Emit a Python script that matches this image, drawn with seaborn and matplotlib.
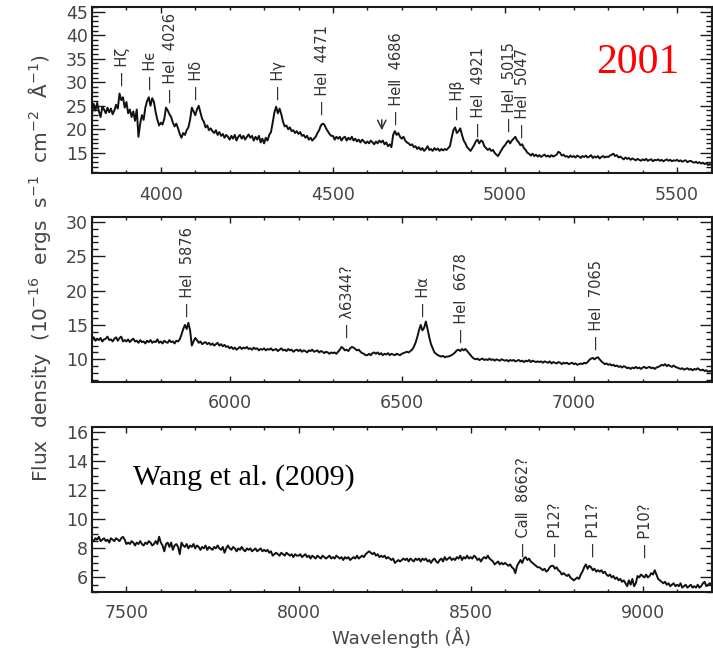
import numpy as np
import pandas as pd
import matplotlib
matplotlib.use("Agg")
import matplotlib.pyplot as plt
from matplotlib.ticker import MultipleLocator
import seaborn as sns

# ---------------------------------------------------------------------------
# Optical spectrum (flux density in 1e-16 erg s^-1 cm^-2 A^-1), 5 A sampling
# ---------------------------------------------------------------------------
STEP = 5

blue_range = (3800, 5600)
flux_blue = [
    23.2, 25.4, 24.0, 25.6, 23.8, 22.6, 24.8, 24.2, 23.4, 24.6, 23.6, 24.4, 23.2, 24.0, 25.2, 24.4, 27.6, 26.2, 26.8, 24.6,  # 3800
    25.8, 23.4, 24.2, 22.6, 23.8, 21.8, 24.2, 18.4, 21.2, 23.0, 22.0, 24.6, 26.0, 26.8, 25.0, 26.6, 25.8, 23.6, 22.0, 20.8,  # 3900
    21.4, 21.0, 22.2, 24.6, 24.0, 23.2, 22.6, 21.4, 20.6, 21.2, 20.2, 19.0, 18.2, 19.2, 18.8, 19.8, 20.4, 22.0, 24.6, 23.8,  # 4000
    23.0, 24.2, 25.0, 23.6, 22.2, 21.6, 20.4, 20.8, 19.8, 20.2, 19.6, 19.2, 19.8, 18.8, 19.4, 18.6, 19.0, 18.2, 18.8, 18.4,  # 4100
    17.8, 18.6, 18.0, 18.8, 17.6, 18.4, 18.8, 18.0, 18.6, 17.8, 18.4, 18.9, 18.2, 18.6, 17.6, 18.4, 17.8, 18.6, 17.2, 18.0,  # 4200
    17.0, 18.2, 17.6, 18.8, 19.4, 21.4, 23.6, 24.8, 23.4, 24.4, 23.2, 21.6, 20.6, 20.8, 20.0, 20.4, 19.6, 19.8, 19.2, 19.6,  # 4300
    19.0, 19.4, 18.6, 18.8, 18.2, 18.6, 17.8, 18.2, 17.6, 18.0, 18.4, 19.2, 19.8, 20.8, 21.2, 21.0, 20.2, 19.6, 19.0, 18.6,  # 4400
    18.6, 17.8, 18.4, 18.0, 18.4, 17.6, 18.2, 18.4, 17.6, 18.2, 17.8, 18.4, 17.6, 18.0, 17.4, 17.8, 17.2, 17.8, 17.4, 17.0,  # 4500
    17.4, 17.0, 17.6, 17.2, 16.8, 17.4, 17.0, 17.6, 17.2, 17.6, 16.8, 17.2, 16.4, 16.8, 16.2, 18.8, 19.6, 18.8, 19.2, 18.4,  # 4600
    18.0, 18.4, 17.6, 17.2, 17.0, 16.6, 16.8, 16.2, 16.4, 15.8, 16.2, 15.6, 16.0, 15.4, 15.8, 16.4, 15.6, 15.8, 15.4, 16.0,  # 4700
    15.6, 15.9, 15.4, 15.8, 15.5, 15.8, 15.6, 16.0, 16.4, 18.2, 19.8, 20.4, 19.2, 19.6, 20.2, 18.8, 17.6, 17.0, 16.2, 15.8,  # 4800
    15.4, 16.0, 16.6, 17.4, 17.8, 17.0, 17.6, 17.4, 16.4, 16.0, 15.6, 15.9, 15.4, 15.6, 15.0, 14.6, 14.3, 15.0, 15.6, 16.2,  # 4900
    16.6, 17.2, 17.6, 17.0, 17.6, 18.0, 18.4, 17.6, 17.2, 16.6, 16.8, 16.0, 15.6, 15.0, 14.8, 14.4, 14.8, 14.3, 14.6, 14.2,  # 5000
    14.5, 14.1, 14.4, 14.6, 14.2, 14.4, 14.1, 14.5, 14.2, 14.4, 14.6, 15.2, 15.0, 14.4, 14.6, 14.2, 14.3, 14.0, 14.4, 14.1,  # 5100
    14.3, 14.0, 14.4, 14.2, 13.9, 14.3, 14.1, 14.4, 14.0, 14.2, 14.5, 13.9, 14.2, 14.0, 14.3, 13.8, 14.1, 14.3, 14.0, 14.2,  # 5200
    14.1, 14.4, 14.6, 14.8, 14.3, 14.5, 14.0, 14.2, 13.9, 13.6, 14.0, 13.7, 13.9, 13.5, 13.8, 13.6, 13.4, 13.7, 13.5, 13.3,  # 5300
    13.6, 13.4, 13.7, 13.3, 13.5, 13.6, 13.2, 13.5, 13.4, 13.6, 13.3, 13.5, 13.2, 13.4, 13.6, 13.3, 13.5, 13.2, 13.4, 13.3,  # 5400
    13.5, 13.2, 13.4, 13.1, 13.3, 13.4, 13.0, 13.2, 13.3, 13.0, 12.9, 13.1, 12.8, 13.0, 12.7, 12.9, 12.6, 12.8, 12.4, 12.6,  # 5500
    12.4,
]

red_range = (5600, 7400)
flux_red = [
    12.9, 13.2, 12.7, 13.0, 12.8, 13.1, 12.6, 12.9, 13.0, 13.3, 12.8, 12.9, 12.6, 13.0, 13.2, 12.7, 13.1, 13.3, 12.6, 12.8,  # 5600
    12.6, 12.9, 12.5, 12.8, 13.0, 12.6, 12.7, 12.4, 12.8, 12.5, 12.6, 12.3, 12.7, 12.5, 12.8, 12.4, 12.6, 12.5, 12.9, 12.4,  # 5700
    12.6, 12.3, 12.7, 12.5, 12.4, 12.8, 12.5, 12.6, 12.3, 12.7, 12.6, 12.9, 13.6, 14.4, 15.0, 14.4, 15.3, 14.2, 12.0, 12.6,  # 5800
    13.1, 12.8, 12.4, 12.6, 12.2, 12.4, 12.5, 12.2, 12.4, 12.1, 12.3, 12.0, 12.2, 12.4, 12.0, 12.2, 11.9, 12.1, 11.8, 11.9,  # 5900
    11.6, 11.8, 11.5, 11.7, 11.4, 11.6, 11.8, 11.5, 11.7, 11.6, 11.8, 11.5, 11.6, 11.4, 11.7, 11.5, 11.6, 11.3, 11.5, 11.4,  # 6000
    11.6, 11.3, 11.5, 11.4, 11.6, 11.3, 11.4, 11.5, 11.2, 11.4, 11.6, 11.3, 11.4, 11.2, 11.5, 11.3, 11.4, 11.1, 11.3, 11.4,  # 6100
    11.2, 11.4, 11.1, 11.3, 11.2, 11.0, 11.3, 11.2, 11.4, 11.1, 11.2, 11.3, 11.0, 11.2, 11.1, 10.9, 11.1, 11.0, 10.8, 11.0,  # 6200
    10.9, 11.0, 10.8, 11.1, 11.4, 11.8, 11.6, 11.3, 11.4, 11.2, 11.6, 11.8, 11.7, 11.5, 11.3, 11.4, 11.1, 10.9, 10.8, 10.6,  # 6300
    10.6, 10.8, 10.6, 10.9, 11.0, 10.8, 11.0, 10.7, 10.9, 10.6, 10.8, 10.7, 10.9, 10.6, 10.8, 10.7, 10.6, 10.8, 10.7, 10.6,  # 6400
    10.8, 10.9, 11.0, 11.1, 11.0, 11.2, 11.4, 11.8, 12.4, 13.2, 14.2, 15.0, 14.2, 14.6, 15.5, 14.4, 13.2, 12.2, 11.6, 11.0,  # 6500
    10.8, 10.6, 10.5, 10.4, 10.5, 10.3, 10.4, 10.4, 10.5, 10.6, 10.8, 11.0, 11.3, 11.4, 11.2, 11.5, 11.3, 11.5, 11.2, 10.9,  # 6600
    10.6, 10.3, 10.1, 10.0, 10.1, 9.9, 10.0, 10.1, 9.9, 10.0, 9.9, 10.1, 9.9, 10.0, 9.8, 10.0, 9.9, 9.8, 10.0, 9.9,  # 6700
    9.8, 9.9, 9.7, 9.9, 9.8, 9.9, 9.7, 9.8, 9.9, 9.7, 9.8, 9.6, 9.8, 9.7, 9.9, 9.6, 9.8, 9.7, 9.6, 9.7,  # 6800
    9.6, 9.7, 9.5, 9.7, 9.6, 9.5, 9.7, 9.4, 9.6, 9.5, 9.4, 9.6, 9.5, 9.3, 9.5, 9.4, 9.5, 9.3, 9.4, 9.5,  # 6900
    9.3, 9.4, 9.2, 9.3, 9.4, 9.3, 9.5, 9.4, 9.6, 9.9, 10.1, 10.2, 10.0, 10.2, 10.3, 10.0, 9.7, 9.5, 9.3, 9.4,  # 7000
    9.2, 9.3, 9.1, 9.2, 9.0, 9.1, 8.9, 9.0, 8.8, 9.0, 8.9, 8.7, 8.8, 8.6, 8.8, 8.7, 8.9, 8.7, 8.8, 8.6,  # 7100
    8.8, 8.9, 8.7, 8.8, 8.9, 8.7, 8.8, 8.6, 8.8, 8.9, 9.0, 9.2, 9.1, 9.3, 9.0, 9.2, 9.0, 8.9, 9.1, 8.9,  # 7200
    8.8, 8.7, 8.6, 8.7, 8.5, 8.6, 8.7, 8.5, 8.6, 8.4, 8.6, 8.5, 8.7, 8.5, 8.4, 8.5, 8.3, 8.4, 8.2, 8.3,  # 7300
    8.2,
]

nir_range = (7400, 9200)
flux_nir = [
    8.6, 8.5, 8.7, 8.6, 8.8, 8.5, 8.6, 8.7, 8.5, 8.6, 8.4, 8.7, 8.6, 8.5, 8.7, 8.6, 8.5, 8.7, 8.8, 8.6,  # 7400
    8.3, 8.4, 8.3, 8.5, 8.4, 8.2, 8.4, 8.3, 8.5, 8.3, 8.2, 8.4, 8.3, 8.5, 8.4, 8.2, 8.3, 8.5, 8.3, 8.8,  # 7500
    8.4, 8.2, 7.8, 8.3, 8.4, 8.1, 8.4, 7.9, 8.2, 8.3, 8.1, 7.6, 8.4, 8.2, 8.1, 8.3, 8.0, 8.2, 8.1, 8.3,  # 7600
    8.0, 8.2, 8.1, 7.9, 8.1, 8.0, 8.2, 7.9, 8.1, 8.0, 7.9, 8.1, 8.0, 8.2, 8.0, 7.9, 8.1, 7.7, 8.0, 8.2,  # 7700
    8.0, 7.9, 8.1, 8.0, 7.8, 8.0, 7.9, 8.1, 7.9, 7.8, 8.0, 7.9, 8.0, 7.8, 7.9, 8.0, 7.8, 7.9, 8.0, 7.8,  # 7800
    7.9, 7.8, 7.9, 7.7, 7.8, 7.5, 7.6, 7.7, 7.6, 7.5, 7.7, 7.6, 7.5, 7.7, 7.6, 7.5, 7.6, 7.4, 7.6, 7.5,  # 7900
    7.5, 7.6, 7.4, 7.5, 7.6, 7.4, 7.5, 7.3, 7.5, 7.4, 7.3, 7.5, 7.4, 7.3, 7.5, 7.4, 7.3, 7.4, 7.5, 7.3,  # 8000
    7.4, 7.3, 7.5, 7.4, 7.3, 7.4, 7.2, 7.4, 7.3, 7.4, 7.2, 7.3, 7.4, 7.3, 7.5, 7.3, 7.4, 7.5, 7.4, 7.6,  # 8100
    7.7, 7.8, 7.7, 7.6, 7.7, 7.5, 7.6, 7.4, 7.5, 7.4, 7.5, 7.3, 7.4, 7.3, 7.2, 7.3, 7.0, 7.1, 7.2, 7.1,  # 8200
    7.2, 7.3, 7.2, 7.3, 7.1, 7.3, 7.2, 7.1, 7.3, 7.2, 7.3, 7.1, 7.3, 7.2, 7.3, 7.1, 7.2, 7.0, 7.2, 7.3,  # 8300
    7.1, 7.0, 7.2, 7.3, 7.1, 7.4, 7.2, 7.3, 7.4, 7.2, 7.3, 7.2, 7.4, 7.3, 7.5, 7.2, 7.4, 7.3, 7.5, 7.3,  # 8400
    7.4, 7.3, 7.5, 7.4, 7.2, 7.3, 7.1, 7.3, 7.4, 7.3, 7.5, 7.3, 7.2, 7.1, 6.9, 7.0, 7.1, 6.9, 7.0, 6.9,  # 8500
    7.0, 6.9, 6.8, 6.9, 6.7, 6.6, 6.3, 6.8, 7.0, 7.2, 7.0, 7.3, 7.4, 7.2, 7.3, 7.1, 7.0, 6.9, 6.8, 6.7,  # 8600
    6.7, 6.6, 6.5, 6.6, 6.4, 6.5, 6.7, 6.8, 6.8, 6.6, 6.7, 6.5, 6.4, 6.2, 6.3, 6.2, 6.1, 6.2, 6.0, 5.9,  # 8700
    5.8, 5.9, 6.0, 5.9, 6.2, 6.4, 6.7, 6.9, 6.6, 6.8, 6.7, 6.5, 6.6, 6.4, 6.5, 6.4, 6.5, 6.3, 6.4, 6.2,  # 8800
    6.1, 6.2, 6.0, 6.1, 5.9, 6.0, 5.8, 5.9, 5.7, 5.8, 5.6, 5.4, 5.8, 5.5, 5.9, 5.4, 5.6, 6.1, 6.0, 6.2,  # 8900
    6.1, 6.0, 6.2, 6.0, 6.1, 6.3, 6.2, 6.5, 6.2, 5.9, 5.8, 5.7, 5.6, 5.7, 5.5, 5.6, 5.4, 5.5, 5.6, 5.4,  # 9000
    5.5, 5.4, 5.6, 5.3, 5.4, 5.5, 5.3, 5.4, 5.5, 5.3, 5.4, 5.3, 5.5, 5.3, 5.4, 5.6, 5.7, 5.4, 5.5, 5.6,  # 9100
    5.5,
]

# Line identifications: label, wavelength (A)
lines_blue = ["H\u03b6", "H\u03f5", "He\u2160  4026", "H\u03b4", "H\u03b3",
              "He\u2160  4471", "He\u2161  4686", "H\u03b2", "He\u2160  4921",
              "He\u2160  5015", "He\u2160  5047"]
wl_blue = [3890, 3969, 4027, 4105, 4341, 4471, 4684, 4861, 4922, 5012, 5052]
lines_red = ["He\u2160  5876", "\u03bb6344?", "H\u03b1", "He\u2160  6678", "He\u2160  7065"]
wl_red = [5878, 6342, 6563, 6673, 7067]
lines_nir = ["Ca\u2161  8662?", "P12?", "P11?", "P10?"]
wl_nir = [8655, 8748, 8858, 9009]

# height (data units) at which each identification label starts
lab_y_blue = [29.3, 28.3, 25.5, 26.2, 26.2, 23.0, 20.9, 22.0, 18.4, 19.4, 18.1]
lab_y_red = [16.2, 13.1, 16.2, 12.4, 11.4]
lab_y_nir = [7.4, 7.4, 7.4, 7.35]

# ---------------------------------------------------------------------------
sns.set_theme(style="ticks")
plt.rcParams.update({
    "font.family": ["DejaVu Sans"],
    "mathtext.default": "regular",
    "axes.linewidth": 1.5,
    "axes.edgecolor": "#1a1a1a",
    "xtick.color": "#1a1a1a",
    "ytick.color": "#1a1a1a",
    "xtick.labelcolor": "#454545",
    "ytick.labelcolor": "#454545",
})

W, H = 713, 655
fig = plt.figure(figsize=(W / 100, H / 100), dpi=100)


def frame(top_px, bottom_px, left_px=92, right_px=711.5):
    return fig.add_axes([left_px / W, (H - bottom_px) / H,
                         (right_px - left_px) / W, (bottom_px - top_px) / H])


panels = [
    dict(ax=frame(7, 173), rng=blue_range, flux=flux_blue, ylim=(10.7, 46.0),
         ymaj=5, ymin=1, names=lines_blue, wl=wl_blue, ly=lab_y_blue),
    dict(ax=frame(217, 382), rng=red_range, flux=flux_red, ylim=(6.7, 30.7),
         ymaj=5, ymin=1, names=lines_red, wl=wl_red, ly=lab_y_red),
    dict(ax=frame(427, 592), rng=nir_range, flux=flux_nir, ylim=(5.0, 16.35),
         ymaj=2, ymin=0.5, names=lines_nir, wl=wl_nir, ly=lab_y_nir),
]

for p in panels:
    ax = p["ax"]
    lo, hi = p["rng"]
    wave = np.arange(lo, hi + STEP, STEP)
    df = pd.DataFrame({"wavelength": wave, "flux": p["flux"]})
    sns.lineplot(data=df, x="wavelength", y="flux", ax=ax, color="#111111",
                 linewidth=1.4, estimator=None, sort=False)
    ax.set_xlim(lo, hi)
    ax.set_ylim(*p["ylim"])
    ax.set_xlabel("")
    ax.set_ylabel("")
    ax.xaxis.set_major_locator(MultipleLocator(500))
    ax.xaxis.set_minor_locator(MultipleLocator(100))
    ax.yaxis.set_major_locator(MultipleLocator(p["ymaj"]))
    ax.yaxis.set_minor_locator(MultipleLocator(p["ymin"]))
    ax.tick_params(which="both", direction="in", top=True, right=True, width=1.0)
    ax.tick_params(axis="x", which="major", length=4, pad=9, labelsize=12.5)
    ax.tick_params(axis="x", which="minor", length=2.5)
    ax.tick_params(axis="y", which="major", length=9, pad=3, labelsize=12.5)
    ax.tick_params(axis="y", which="minor", length=4.5)
    for name, x, y in zip(p["names"], p["wl"], p["ly"]):
        ax.text(x, y, "\u2014 " + name, rotation=90, ha="center", va="bottom",
                fontsize=10.5, color="#333333")

# arrow marking the feature near 4640 A
panels[0]["ax"].annotate("", xy=(4642, 19.2), xytext=(4642, 22.6),
                         arrowprops=dict(arrowstyle="->", lw=1.1, color="#333333",
                                         mutation_scale=15))

fig.text(40 / W, 1 - 268 / H,
         r"Flux  density  (10$^{-16}$  ergs  s$^{-1}$  cm$^{-2}$  Å$^{-1}$)",
         rotation=90, ha="center", va="center", fontsize=14.5, color="#454545")
fig.text(402 / W, 1 - 637 / H, "Wavelength (Å)", ha="center", va="center",
         fontsize=13, color="#454545")

fig.text(638 / W, 1 - 63 / H, "2001", ha="center", va="center",
         fontsize=30, color="#ff0000", family="Liberation Serif")
fig.text(133 / W, 1 - 478 / H, "Wang et al. (2009)", ha="left", va="center",
         fontsize=21.5, color="black", family="Liberation Serif")

fig.savefig("out.png", dpi=100, facecolor="white")
